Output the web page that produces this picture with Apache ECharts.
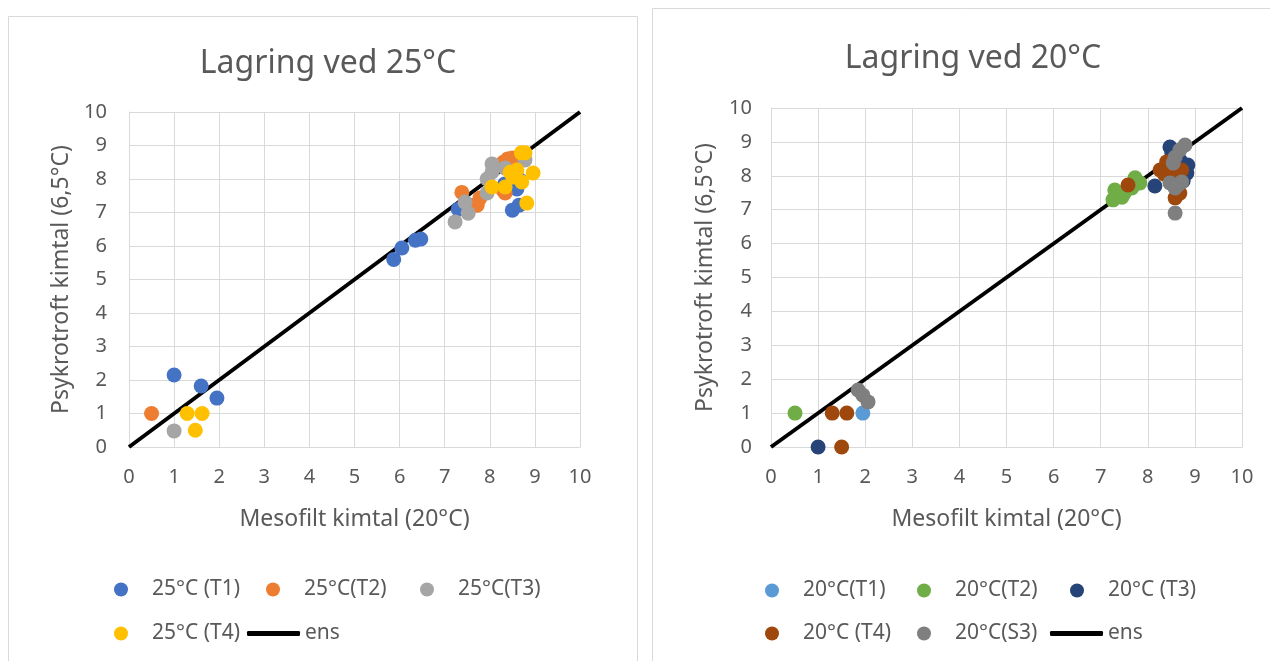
<!DOCTYPE html>
<html>
<head>
<meta charset="utf-8">
<script src="https://cdn.jsdelivr.net/npm/echarts@6/dist/echarts.min.js"></script>
<style>
  html, body { margin: 0; padding: 0; background: #fff; }
  #chart { width: 1270px; height: 661px; }
</style>
</head>
<body>
<div id="chart"></div>
<script>
// Lagring ved 25°C  [mesofilt, psykrotroft]
var t1_25 = [[1.0,2.15],[1.6,1.82],[1.95,1.46],[5.87,5.6],[6.05,5.94],[6.35,6.17],[6.47,6.21],[7.3,7.1],[7.6,7.2],[8.5,7.07],[8.65,7.22],[8.6,7.7],[8.33,7.85],[8.67,7.97]];
var t2_25 = [[0.5,1.0],[7.38,7.6],[7.72,7.22],[7.78,7.43],[8.29,7.67],[8.34,7.58],[8.4,8.6],[8.5,8.63],[8.3,8.5]];
var t3_25 = [[1.0,0.48],[7.23,6.72],[7.45,7.31],[7.52,6.98],[8.05,8.45],[8.05,8.21],[7.94,8.0],[7.94,7.58],[8.34,8.33],[8.78,8.57]];
var t4_25 = [[1.29,1.0],[1.62,1.0],[1.47,0.5],[8.78,8.78],[8.05,7.76],[8.34,7.76],[8.45,8.2],[8.6,8.27],[8.96,8.18],[8.71,7.91],[8.82,7.28],[8.51,8.06],[8.7,8.78]];

// Lagring ved 20°C
var t1_20 = [[1.95,1.0]];
var t2_20 = [[0.51,1.0],[7.26,7.29],[7.3,7.58],[7.45,7.37],[7.73,7.94],[7.83,7.79],[7.5,7.49],[7.66,7.64]];
var t3_20 = [[1.0,0],[8.47,8.85],[8.15,7.7],[8.83,8.08],[8.85,8.32],[8.51,8.67],[8.68,8.47],[8.75,7.85]];
var t4_20 = [[7.58,7.73],[1.3,1.0],[1.61,1.0],[1.5,0],[8.26,8.17],[8.4,8.41],[8.58,7.35],[8.68,7.49],[8.54,7.96],[8.72,8.17],[8.35,8.05]];
var s3_20 = [[1.85,1.68],[1.95,1.53],[2.06,1.33],[8.58,6.9],[8.79,8.91],[8.68,8.76],[8.58,8.55],[8.54,8.38],[8.47,7.79],[8.64,7.73],[8.72,7.82],[8.58,7.64]];

// 1:1 linje
var ens = [[0,0],[10,10]];

var font = 'Noto Sans';
var txt = '#595959';
var gridCol = '#d9d9d9';

var myChart = echarts.init(document.getElementById('chart'));

function xAx(gi) {
    return {
        type: 'value', gridIndex: gi, min: 0, max: 10, interval: 1,
        name: 'Mesofilt kimtal (20°C)', nameLocation: 'middle', nameGap: 61,
        nameTextStyle: { color: txt, fontSize: 23, fontFamily: font },
        axisLine: { show: true, lineStyle: { color: gridCol, width: 1 } },
        axisTick: { show: false },
        axisLabel: { color: txt, fontSize: 20, fontFamily: font, margin: 20 },
        splitLine: { show: true, lineStyle: { color: gridCol, width: 1 } }
    };
}
function yAx(gi, gap, margin) {
    return {
        type: 'value', gridIndex: gi, min: 0, max: 10, interval: 1,
        name: 'Psykrotroft kimtal (6,5°C)', nameLocation: 'middle', nameGap: gap, nameRotate: 90,
        nameTextStyle: { color: txt, fontSize: 23, fontFamily: font },
        axisLine: { show: true, lineStyle: { color: gridCol, width: 1 } },
        axisTick: { show: false },
        axisLabel: { color: txt, fontSize: 20, fontFamily: font, margin: margin },
        splitLine: { show: true, lineStyle: { color: gridCol, width: 1 } }
    };
}
function pts(name, data, color, gi) {
    return {
        name: name, type: 'scatter', xAxisIndex: gi, yAxisIndex: gi,
        data: data, symbolSize: 15, z: 3,
        itemStyle: { color: color, opacity: 1 }
    };
}
function line(name, gi) {
    return {
        name: name, type: 'line', xAxisIndex: gi, yAxisIndex: gi,
        data: ens, showSymbol: false, symbol: 'none', z: 2,
        lineStyle: { color: '#000', width: 4 }, itemStyle: { color: '#000' }
    };
}
function leg(name, cx, cy) {
    return {
        data: [name], left: cx - 7, top: cy - 10, padding: 0,
        itemWidth: 14, itemHeight: 14, icon: 'circle',
        textStyle: { color: txt, fontSize: 21, fontFamily: font, padding: [0, 0, 0, 19] }
    };
}
function legLine(name, x, cy) {
    return {
        data: [name], left: x, top: cy - 10, padding: 0,
        itemWidth: 53, itemHeight: 5, icon: 'roundRect',
        itemStyle: { color: '#000' },
        textStyle: { color: txt, fontSize: 21, fontFamily: font, padding: [0, 0, 0, 0] }
    };
}

option = {
    backgroundColor: '#fff',
    animation: false,
    graphic: [
        { type: 'rect', shape: { x: 8.5, y: 16.5, width: 629, height: 660 }, style: { fill: 'none', stroke: gridCol, lineWidth: 1 } },
        { type: 'rect', shape: { x: 652.5, y: 8.5, width: 640, height: 660 }, style: { fill: 'none', stroke: gridCol, lineWidth: 1 } }
    ],
    title: [
        { text: 'Lagring ved 25°C', left: 323, top: 43, textAlign: 'center',
          textStyle: { color: txt, fontSize: 32, fontWeight: 'normal', fontFamily: font } },
        { text: 'Lagring ved 20°C', left: 968, top: 38, textAlign: 'center',
          textStyle: { color: txt, fontSize: 32, fontWeight: 'normal', fontFamily: font } }
    ],
    grid: [
        { left: 129, right: 690, top: 112, bottom: 214 },
        { left: 771, right: 28, top: 108, bottom: 214 }
    ],
    xAxis: [xAx(0), xAx(1)],
    yAxis: [yAx(0, 56, 22), yAx(1, 54, 19)],
    legend: [
        leg('25°C (T1)', 121, 589),
        leg('25°C(T2)', 273, 589),
        leg('25°C(T3)', 427, 589),
        leg('25°C (T4)', 121, 633),
        legLine('ens', 247, 633),
        leg('20°C(T1)', 772, 590),
        leg('20°C(T2)', 924, 590),
        leg('20°C (T3)', 1077, 590),
        leg('20°C (T4)', 772, 633),
        leg('20°C(S3)', 924, 633),
        legLine('ens ', 1050, 633)
    ],
    series: [
        line('ens', 0),
        pts('25°C (T1)', t1_25, '#4472C4', 0),
        pts('25°C(T2)', t2_25, '#ED7D31', 0),
        pts('25°C(T3)', t3_25, '#A5A5A5', 0),
        pts('25°C (T4)', t4_25, '#FFC000', 0),
        line('ens ', 1),
        pts('20°C(T1)', t1_20, '#5B9BD5', 1),
        pts('20°C(T2)', t2_20, '#70AD47', 1),
        pts('20°C (T3)', t3_20, '#264478', 1),
        pts('20°C (T4)', t4_20, '#9E480E', 1),
        pts('20°C(S3)', s3_20, '#7F7F7F', 1)
    ]
};
if (option && typeof option === "object") {
    myChart.setOption(option, true);
}
</script>
</body>
</html>
